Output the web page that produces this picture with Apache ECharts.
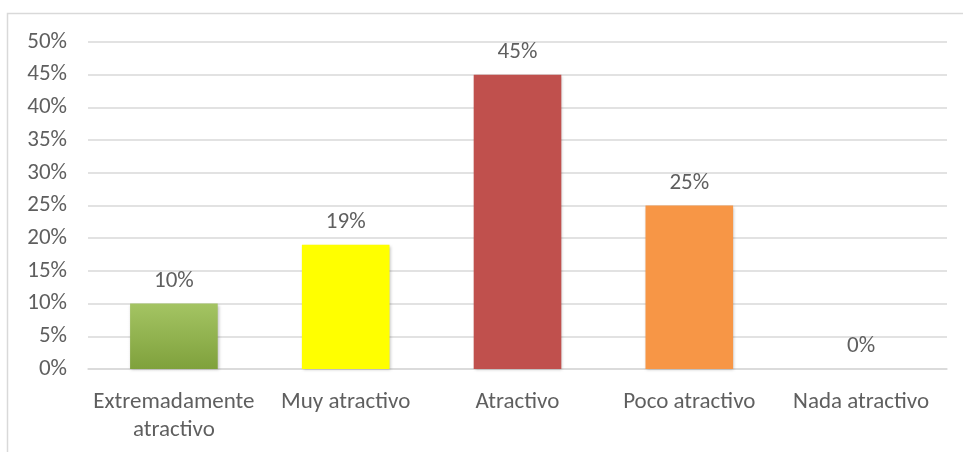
<!DOCTYPE html>
<html>
<head>
<meta charset="utf-8">
<script src="https://cdn.jsdelivr.net/npm/echarts@6/dist/echarts.min.js"></script>
<style>
  html, body { margin: 0; padding: 0; background: #fff; }
  #chart { width: 963px; height: 452px; }
</style>
</head>
<body>
<div id="chart"></div>
<script>
// Rating categories and the share of answers for each
const categories = ['Extremadamente\natractivo', 'Muy atractivo', 'Atractivo', 'Poco atractivo', 'Nada atractivo'];
const shares = [0.10, 0.19, 0.45, 0.25, 0.00];
const barColors = [
  ['#a4c463', '#7fa13c'],
  ['#ffff00', '#ffff00'],
  ['#c0504d', '#c0504d'],
  ['#f79646', '#f79646'],
  ['#cccccc', '#cccccc']
];

const FONT = 'Carlito, Lato, "Open Sans", sans-serif';
const TEXT = '#5f5f5f';
const SIZE = 23;

const chart = echarts.init(document.getElementById('chart'), null, { renderer: 'canvas' });

const pct = v => Math.round(v * 100) + '%';

chart.setOption({
  animation: false,
  backgroundColor: '#ffffff',
  graphic: [{
    type: 'rect',
    shape: { x: 7.5, y: 13.5, width: 970, height: 460 },
    style: { fill: 'none', stroke: '#d9d9d9', lineWidth: 1.5 },
    silent: true
  }],
  grid: { left: 88, right: 16, top: 42, bottom: 83, containLabel: false },
  xAxis: {
    type: 'category',
    data: categories,
    axisLine: { show: true, lineStyle: { color: '#d9d9d9', width: 1.5 } },
    axisTick: { show: false },
    axisLabel: {
      color: TEXT, fontFamily: FONT, fontSize: SIZE, lineHeight: 28,
      margin: 19, interval: 0
    }
  },
  yAxis: {
    type: 'value',
    min: 0, max: 0.5, interval: 0.05,
    axisLine: { show: false },
    axisTick: { show: false },
    splitLine: { lineStyle: { color: '#d9d9d9', width: 1.5 } },
    axisLabel: {
      color: TEXT, fontFamily: FONT, fontSize: SIZE, margin: 21,
      formatter: pct
    }
  },
  series: [{
    type: 'bar',
    barWidth: '51%',
    data: shares.map((v, i) => ({
      value: v,
      itemStyle: {
        color: new echarts.graphic.LinearGradient(0, 0, 0, 1, [
          { offset: 0, color: barColors[i][0] },
          { offset: 1, color: barColors[i][1] }
        ]),
        shadowColor: 'rgba(0,0,0,0.25)',
        shadowBlur: 3,
        shadowOffsetX: 1,
        shadowOffsetY: 1
      }
    })),
    label: {
      show: true, position: 'top', distance: 11,
      color: TEXT, fontFamily: FONT, fontSize: SIZE,
      formatter: p => pct(p.value)
    }
  }]
});
</script>
</body>
</html>
